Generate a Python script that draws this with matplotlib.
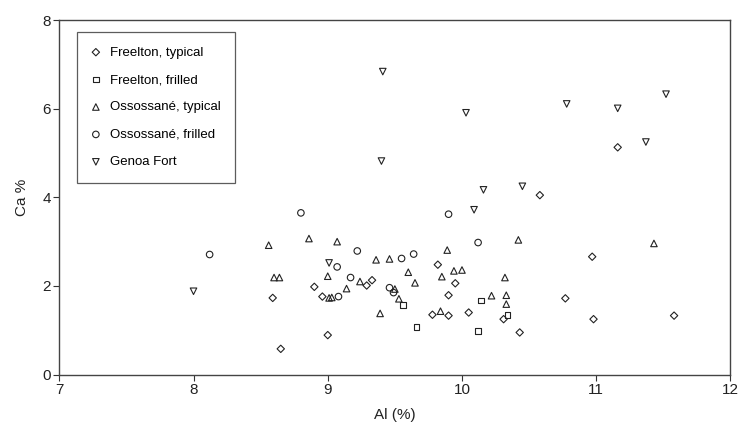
import matplotlib
matplotlib.use("Agg")
import matplotlib.pyplot as plt

plt.rcParams['font.family'] = ['Liberation Sans', 'DejaVu Sans']

# Freelton, typical (diamonds)
ft_al = [8.59, 8.65, 8.90, 8.96, 9.00, 9.29, 9.33, 9.78, 9.82, 9.90, 9.90, 9.95,
         10.05, 10.31, 10.43, 10.58, 10.77, 10.97, 10.98, 11.16, 11.58]
ft_ca = [1.73, 0.58, 1.98, 1.76, 0.89, 2.01, 2.13, 1.35, 2.48, 1.79, 1.33, 2.06,
         1.40, 1.25, 0.95, 4.05, 1.72, 2.66, 1.25, 5.13, 1.33]

# Freelton, frilled (squares)
ff_al = [9.56, 9.66, 10.12, 10.14, 10.34]
ff_ca = [1.57, 1.07, 0.98, 1.67, 1.34]

# Ossossané, typical (up triangles)
ot_al = [8.56, 8.60, 8.64, 8.86, 9.00, 9.01, 9.03, 9.07, 9.14, 9.24, 9.36, 9.39,
         9.46, 9.50, 9.53, 9.60, 9.65, 9.84, 9.85, 9.89, 9.94, 10.00, 10.22,
         10.32, 10.33, 10.33, 10.42, 11.43]
ot_ca = [2.92, 2.19, 2.19, 3.07, 2.22, 1.73, 1.74, 3.00, 1.94, 2.10, 2.59, 1.38,
         2.61, 1.93, 1.71, 2.31, 2.07, 1.43, 2.21, 2.81, 2.34, 2.36, 1.78,
         2.19, 1.79, 1.59, 3.04, 2.96]

# Ossossané, frilled (circles)
of_al = [8.12, 8.80, 9.07, 9.08, 9.17, 9.22, 9.46, 9.49, 9.55, 9.64, 9.90, 10.12]
of_ca = [2.71, 3.65, 2.43, 1.76, 2.19, 2.79, 1.96, 1.85, 2.62, 2.72, 3.62, 2.98]

# Genoa Fort (down triangles)
gf_al = [8.00, 9.01, 9.40, 9.41, 10.03, 10.09, 10.16, 10.45, 10.78, 11.16, 11.37, 11.52]
gf_ca = [1.88, 2.52, 4.82, 6.84, 5.91, 3.72, 4.17, 4.25, 6.11, 6.01, 5.25, 6.33]

series = [
    (ft_al, ft_ca, 'D', 14, 'Freelton, typical'),
    (ff_al, ff_ca, 's', 16, 'Freelton, frilled'),
    (ot_al, ot_ca, '^', 22, 'Ossossané, typical'),
    (of_al, of_ca, 'o', 22, 'Ossossané, frilled'),
    (gf_al, gf_ca, 'v', 22, 'Genoa Fort'),
]

fig = plt.figure(figsize=(7.4, 4.3), dpi=100)
ax = fig.add_axes([0.0801, 0.129, 0.907, 0.824])

for x, y, m, s, lab in series:
    ax.scatter(x, y, marker=m, s=s, facecolors='none', edgecolors='#222222',
               linewidths=0.8, label=lab)

ax.set_xlim(7, 12)
ax.set_ylim(0, 8)
ax.set_xticks([7, 8, 9, 10, 11, 12])
ax.set_yticks([0, 2, 4, 6, 8])
ax.tick_params(direction='out', length=4, width=0.8, colors='#333333',
               labelsize=11, labelcolor='#222222', pad=2)
for sp in ax.spines.values():
    sp.set_color('#444444')
    sp.set_linewidth(1.0)

ax.set_xlabel('Al (%)', fontsize=11, color='#222222', labelpad=8)
ax.set_ylabel('Ca %', fontsize=11, color='#222222', labelpad=10)

leg = ax.legend(loc='upper left', bbox_to_anchor=(0.026, 0.967), fontsize=9.5,
                frameon=True, fancybox=False, edgecolor='#333333',
                handlelength=0.7, handletextpad=0.7, labelspacing=1.15,
                borderpad=1.1, borderaxespad=0, scatterpoints=1)
leg.get_frame().set_linewidth(0.9)

fig.savefig('out.png', dpi=100)
